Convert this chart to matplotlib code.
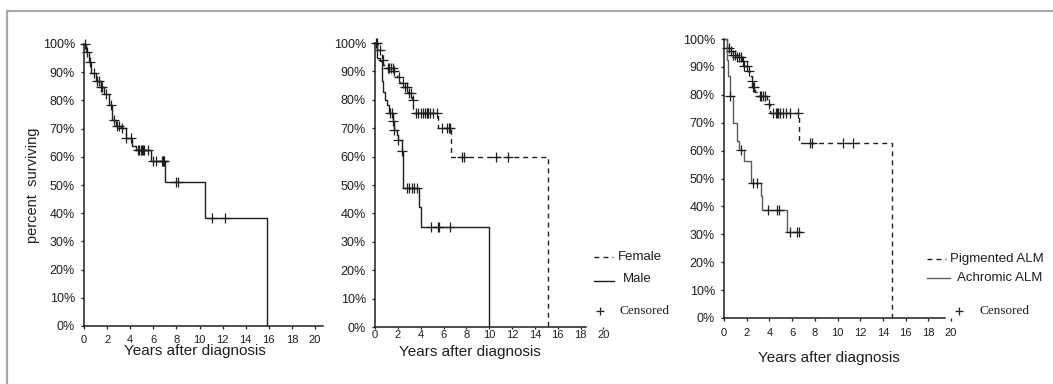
import numpy as np
import matplotlib
matplotlib.use("Agg")
import matplotlib.pyplot as plt
from matplotlib.lines import Line2D

# ---------------- data (years, survival %) ----------------
# Overall
all_t = [0, 0.2, 0.43, 0.58, 1.01, 1.45, 1.74, 2.17, 2.46, 2.75, 3.19, 3.62, 4.14, 4.49, 5.8, 7.01, 10.49, 15.88]
all_s = [100, 97, 93.7, 89.8, 86.9, 84.9, 82.2, 78.4, 73, 70.9, 70.1, 66.6, 63.8, 62.4, 58.5, 51.2, 38.2, 0]
all_cens = [0.05, 0.29, 0.49, 0.87, 1.16, 1.3, 1.45, 1.59, 1.88, 2.32, 2.61, 2.9, 3.04, 3.33, 3.62,
            4.06, 4.64, 4.78, 4.93, 5.01, 5.1, 5.22, 5.51, 5.94, 6.23, 6.75, 6.81, 6.87, 6.93,
            7.97, 8.12, 11.07, 12.2]

# By sex
female_t = [0, 0.29, 0.58, 0.73, 1.02, 1.61, 1.9, 2.19, 2.63, 2.92, 3.21, 3.36, 5.55, 6.66, 15.12]
female_s = [100, 97.7, 94.1, 92.4, 91.2, 90, 88.2, 85.9, 84.5, 82.4, 80, 75.5, 70.2, 60, 0]
female_cens = [0.2, 0.44, 0.67, 1.17, 1.26, 1.37, 1.55, 1.69, 2.13, 2.48, 2.63, 2.77, 3.01, 3.13,
               3.3, 3.59, 3.8, 4.0, 4.23, 4.38, 4.53, 4.58, 4.67, 4.82, 5.11, 5.46, 5.84, 6.28,
               6.51, 6.6, 7.59, 7.79, 10.6, 11.68]

male_t = [0, 0.2, 0.44, 0.58, 0.67, 0.88, 1.02, 1.26, 1.61, 1.69, 1.9, 2.04, 2.34, 2.48, 3.85, 4.03, 9.98]
male_s = [100, 94.7, 93.5, 86.5, 82.9, 80, 78.2, 75.3, 72.4, 69.4, 67.7, 65.9, 61.8, 49.1, 42.4, 35.3, 0]
male_cens = [0.1, 1.31, 1.46, 1.61, 1.69, 2.04, 2.34, 2.77, 2.98, 3.21, 3.41, 3.65, 4.88, 5.49, 5.63, 6.57]

# By pigmentation
pig_t = [0, 0.23, 0.53, 0.76, 1.11, 1.55, 1.7, 2.0, 2.28, 2.43, 2.51, 2.72, 2.92, 3.8, 4.09, 6.61, 14.8]
pig_s = [100, 96.8, 95.6, 94.4, 93.5, 92, 90.2, 88.4, 86.8, 84.8, 82.8, 80.9, 79.4, 76.7, 73.5, 62.9, 0]
pig_cens = [0.23, 0.47, 0.58, 0.76, 0.97, 1.17, 1.35, 1.46, 1.64, 1.78, 1.99, 2.22, 2.43, 2.57,
            2.63, 3.16, 3.3, 3.45, 3.6, 3.98, 4.33, 4.56, 4.68, 4.77, 4.91, 5.2, 5.5, 5.79, 6.52,
            7.6, 7.75, 10.47, 11.4]

achr_t = [0, 0.23, 0.38, 0.53, 0.76, 1.11, 1.35, 1.75, 2.34, 3.3, 3.39, 5.56, 6.81]
achr_s = [100, 92.6, 86.6, 79.4, 69.9, 63.3, 60.1, 56.1, 48.4, 43.6, 38.6, 30.8, 30.8]
achr_cens = [0.53, 1.49, 2.54, 2.89, 3.86, 4.65, 4.82, 5.79, 6.4, 6.58]

x_ticks = list(range(0, 21, 2))
y_ticks = list(range(0, 101, 10))
y_labels = [f"{v}%" for v in y_ticks]

# ---------------- style ----------------
W, H = 1053, 384
DPI = 100
SANS = ["Liberation Sans", "DejaVu Sans"]
SERIF = ["Liberation Serif", "DejaVu Serif"]
plt.rcParams["font.family"] = SANS
INK = "#1e1e1e"
GREY_LINE = "#5a5a5a"

fig = plt.figure(figsize=(W / DPI, H / DPI), dpi=DPI)


def px_axes(x0, scale, xmax, y0, y100, ymax=101.5):
    """Axes whose data origin sits at pixel (x0, y0), measured from the top-left."""
    left = x0 / W
    width = xmax * scale / W
    height = (y0 - y100) * ymax / 100 / H
    bottom = (H - y0) / H
    ax = fig.add_axes([left, bottom, width, height])
    ax.set_xlim(0, xmax)
    ax.set_ylim(0, ymax)
    for side in ("top", "right"):
        ax.spines[side].set_visible(False)
    for side in ("left", "bottom"):
        ax.spines[side].set_linewidth(1.1)
        ax.spines[side].set_color(INK)
    ax.spines["left"].set_bounds(0, 100)
    ax.set_xticks(x_ticks)
    ax.set_yticks(y_ticks)
    ax.set_yticklabels(y_labels)
    ax.tick_params(axis="both", length=2.5, width=0.9, color=INK, labelcolor=INK)
    ax.tick_params(axis="y", labelsize=9, pad=4)
    ax.tick_params(axis="x", labelsize=8)
    ax.patch.set_alpha(0)
    return ax


def censor_y(times, surv, cens):
    t = np.asarray(times)
    s = np.asarray(surv)
    idx = np.searchsorted(t, np.asarray(cens), side="right") - 1
    return s[idx]


def km(ax, times, surv, cens, **kw):
    ax.step(times, surv, where="post", **kw)
    ax.plot(cens, censor_y(times, surv, cens), linestyle="none", marker="+",
            markersize=6.5, markeredgewidth=0.9, color=INK, clip_on=False)


dash = (0, (3.5, 3.0))

# Panel 1: all patients
ax1 = px_axes(84, 11.55, 20.7, 326, 44)
km(ax1, all_t, all_s, all_cens, color=INK, lw=1.0)
ax1.tick_params(axis="x", pad=4)

# Panel 2: sex
ax2 = px_axes(375, 11.42, 20.3, 327, 43)
ax2.spines["bottom"].set_bounds(0, 18.5)
km(ax2, female_t, female_s, female_cens, color=INK, lw=1.0, linestyle=dash)
km(ax2, male_t, male_s, male_cens, color=INK, lw=1.0)
ax2.tick_params(axis="x", pad=0.5, length=1.5)

# Panel 3: pigmentation
ax3 = px_axes(724, 11.35, 20.3, 318, 39)
ax3.spines["bottom"].set_bounds(0, 19.5)
km(ax3, pig_t, pig_s, pig_cens, color=INK, lw=1.0, linestyle=dash)
km(ax3, achr_t, achr_s, achr_cens, color=GREY_LINE, lw=1.0)
ax3.tick_params(axis="x", pad=5)

# Axis titles
def ftext(x, y, s, **kw):
    fig.text(x / W, 1 - y / H, s, **kw)

ftext(195, 351, "Years after diagnosis", fontsize=11, ha="center", va="center", color=INK)
ftext(470, 352, "Years after diagnosis", fontsize=11, ha="center", va="center", color=INK)
ftext(829, 358, "Years after diagnosis", fontsize=11, ha="center", va="center", color=INK)
ftext(33, 185, "percent  surviving", fontsize=10.5, rotation=90, ha="center", va="center", color=INK)

# Legends
def fline(x0, x1, y, **kw):
    fig.add_artist(Line2D([x0 / W, x1 / W], [1 - y / H, 1 - y / H], **kw))

fline(594, 613, 257, color=INK, lw=1.0, linestyle=dash)
ftext(618, 257, "Female", fontsize=9.5, va="center", color=INK)
fline(594, 614, 281, color=INK, lw=1.0)
ftext(623, 279, "Male", fontsize=9.5, va="center", color=INK)
fig.add_artist(Line2D([600 / W], [1 - 311 / H], marker="+", markersize=6,
                      markeredgewidth=0.9, color=INK, linestyle="none"))
ftext(620, 311, "Censored", fontsize=9.5, va="center", family=SERIF, color=INK)

fline(927, 946, 259, color=INK, lw=1.0, linestyle=dash)
ftext(950, 259, "Pigmented ALM", fontsize=9.5, va="center", color=INK)
fline(927, 950, 278, color=GREY_LINE, lw=1.0)
ftext(957, 278, "Achromic ALM", fontsize=9.5, va="center", color=INK)
fig.add_artist(Line2D([959 / W], [1 - 311 / H], marker="+", markersize=6,
                      markeredgewidth=0.9, color=INK, linestyle="none"))
ftext(979, 311, "Censored", fontsize=9.5, va="center", family=SERIF, color=INK)

# Grey frame along the top and left edges
frame_kw = dict(color="#a9a9a9", lw=1.6, solid_capstyle="butt")
fline(6, W, 11, **frame_kw)
fig.add_artist(Line2D([7 / W, 7 / W], [1 - 11 / H, 0], **frame_kw))

fig.savefig("out.png", dpi=DPI)
